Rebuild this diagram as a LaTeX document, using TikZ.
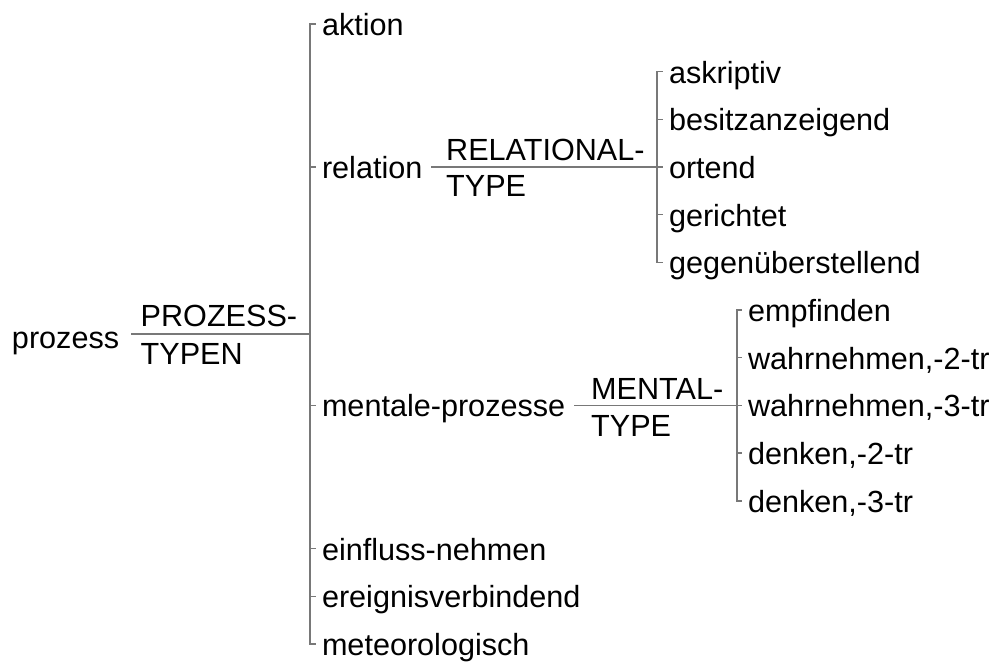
\documentclass[tikz,border=0pt]{standalone}
\usepackage{fontspec}
\setmainfont{Liberation Sans}
\definecolor{linegray}{RGB}{120,120,120}
\begin{document}
\begin{tikzpicture}[x=1pt,y=-1pt,
  font=\fontsize{30.6pt}{36pt}\selectfont,
  lbl/.style={inner sep=0pt, outer xsep=6pt, text height=23pt, text depth=0pt, anchor=west},
  tag/.style={inner sep=0pt, anchor=base west},
  conn/.style={draw=linegray, line width=1.4pt}]
\useasboundingbox (0,0) rectangle (993,664);
% junctions
\coordinate (j0) at (310,333.85);
\coordinate (j1) at (657,166.9);
\coordinate (j2) at (737,405.4);
% root
\node[lbl] (prozess) at (6,336.85) {prozess};
\node[tag] (t0a) at (140.5,326.8) {PROZESS-};
\node[tag] (t0b) at (140.5,364.8) {TYPEN};
% main children
\node[lbl] (aktion) at (316,23.8) {aktion};
\node[lbl] (relation) at (316,166.9) {relation};
\node[lbl] (mentale) at (316,405.4) {mentale-prozesse};
\node[lbl] (einfluss) at (316,548.5) {einfluss-nehmen};
\node[lbl] (ereignis) at (316,596.2) {ereignisverbindend};
\node[lbl] (meteor) at (316,643.9) {meteorologisch};
% relation subtree
\node[tag] (t1a) at (446,160) {RELATIONAL-};
\node[tag] (t1b) at (446,196) {TYPE};
\node[lbl] (askriptiv) at (663,71.5) {askriptiv};
\node[lbl] (besitz) at (663,119.2) {besitzanzeigend};
\node[lbl] (ortend) at (663,166.9) {ortend};
\node[lbl] (gerichtet) at (663,214.6) {gerichtet};
\node[lbl] (gegen) at (663,262.3) {gegenüberstellend};
% mental subtree
\node[tag] (t2a) at (591,399) {MENTAL-};
\node[tag] (t2b) at (591,436.5) {TYPE};
\node[lbl] (empfinden) at (742,310.0) {empfinden};
\node[lbl] (wahr2) at (742,357.7) {wahrnehmen,-2-tr};
\node[lbl] (wahr3) at (742,405.4) {wahrnehmen,-3-tr};
\node[lbl] (denken2) at (742,453.1) {denken,-2-tr};
\node[lbl] (denken3) at (742,500.8) {denken,-3-tr};
% connectors
\draw[conn] ([xshift=6pt]prozess.east |- j0) -- (j0);
\foreach \n in {aktion,relation,mentale,einfluss,ereignis,meteor}
  \draw[conn] (j0) |- (\n.west);
\draw[conn] ([xshift=3pt]relation.east) -- (j1);
\foreach \n in {askriptiv,besitz,ortend,gerichtet,gegen}
  \draw[conn] (j1) |- (\n.west);
\draw[conn] ([xshift=3pt]mentale.east) -- (j2);
\foreach \n in {empfinden,wahr2,wahr3,denken2,denken3}
  \draw[conn] (j2) |- (\n.west);
\end{tikzpicture}
\end{document}
